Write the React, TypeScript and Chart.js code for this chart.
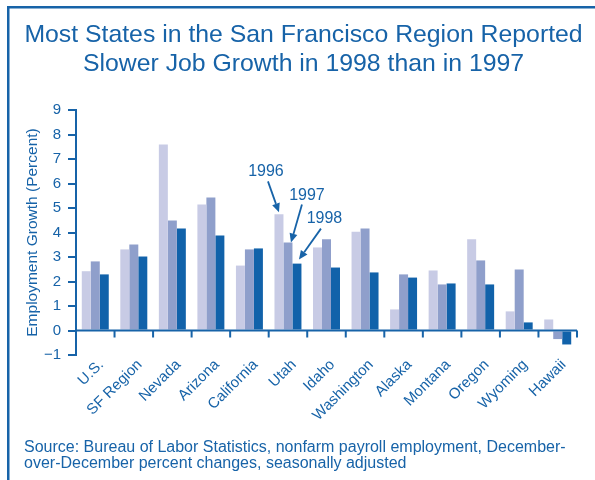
import { useEffect, useRef } from "react";
import { Chart, registerables } from "chart.js";

Chart.register(...registerables);

const categories = ["U.S.", "SF Region", "Nevada", "Arizona", "California", "Utah", "Idaho", "Washington", "Alaska", "Montana", "Oregon", "Wyoming", "Hawaii"];
const seriesLabels = ["1996", "1997", "1998"];
const growth1996 = [2.42, 3.31, 7.59, 5.14, 2.65, 4.74, 3.39, 4.03, 0.86, 2.45, 3.72, 0.78, 0.45];
const growth1997 = [2.82, 3.51, 4.49, 5.43, 3.31, 3.59, 3.72, 4.16, 2.29, 1.88, 2.86, 2.49, -0.35];
const growth1998 = [2.29, 3.02, 4.16, 3.88, 3.35, 2.73, 2.57, 2.37, 2.16, 1.92, 1.88, 0.33, -0.57];
const yMin = -1;
const yMax = 9;
const titleLines = ["Most States in the San Francisco Region Reported", "Slower Job Growth in 1998 than in 1997"];
const sourceLines = [
  "Source: Bureau of Labor Statistics, nonfarm payroll employment, December-",
  "over-December percent changes, seasonally adjusted",
];
const yAxisTitle = "Employment Growth (Percent)";
const annotatedCategory = "Utah";

const BLUE = "#1763a8";
const COLORS = ["#c8cbe5", "#8f9fcb", "#1162aa"];
const FONT = "'Liberation Sans', Arial, Helvetica, sans-serif";

const decorPlugin = {
  id: "decor",
  beforeDraw(chart: any) {
    const ctx = chart.ctx;
    ctx.save();
    ctx.fillStyle = "#ffffff";
    ctx.fillRect(0, 0, chart.width, chart.height);
    ctx.fillStyle = BLUE;
    ctx.fillRect(7, 6, chart.width - 7, 2.5);
    ctx.fillRect(7, 6, 2.5, chart.height - 6);
    ctx.font = `24.8px ${FONT}`;
    ctx.textAlign = "center";
    ctx.textBaseline = "alphabetic";
    ctx.fillText(titleLines[0], 303.5, 41.5);
    ctx.fillText(titleLines[1], 303.5, 71);
    ctx.font = `16px ${FONT}`;
    ctx.textAlign = "left";
    ctx.fillText(sourceLines[0], 24, 452);
    ctx.fillText(sourceLines[1], 24, 468);
    ctx.restore();
  },
  afterDatasetsDraw(chart: any) {
    const ctx = chart.ctx;
    const area = chart.chartArea;
    const y0 = chart.scales.y.getPixelForValue(0);
    const n = categories.length;
    const step = (area.right - area.left) / n;
    ctx.save();
    ctx.strokeStyle = BLUE;
    ctx.lineWidth = 2;
    ctx.beginPath();
    ctx.moveTo(area.left, y0);
    ctx.lineTo(area.right, y0);
    for (let i = 1; i <= n; i++) {
      const x = area.left + i * step;
      ctx.moveTo(x, y0);
      ctx.lineTo(x, y0 + 7);
    }
    ctx.stroke();

    // annotations
    const idx = categories.indexOf(annotatedCategory);
    const specs = [
      { tip: [0, -2], tail: [-11, -33], text: [-13, -38] },
      { tip: [3, 0], tail: [14, -38], text: [19, -43] },
      { tip: [2, -4], tail: [24, -35], text: [27.5, -41] },
    ];
    ctx.fillStyle = BLUE;
    ctx.font = `16px ${FONT}`;
    ctx.textAlign = "center";
    ctx.textBaseline = "alphabetic";
    specs.forEach((s, i) => {
      const bar = chart.getDatasetMeta(i).data[idx];
      const bx = bar.x;
      const by = bar.y;
      const tx = bx + s.tip[0];
      const ty = by + s.tip[1];
      const sx = bx + s.tail[0];
      const sy = by + s.tail[1];
      const ang = Math.atan2(ty - sy, tx - sx);
      const headLen = 9;
      const headW = 4;
      const hx = tx - headLen * Math.cos(ang);
      const hy = ty - headLen * Math.sin(ang);
      ctx.lineWidth = 1.8;
      ctx.beginPath();
      ctx.moveTo(sx, sy);
      ctx.lineTo(hx, hy);
      ctx.stroke();
      ctx.beginPath();
      ctx.moveTo(tx, ty);
      ctx.lineTo(hx + headW * Math.sin(ang), hy - headW * Math.cos(ang));
      ctx.lineTo(hx - headW * Math.sin(ang), hy + headW * Math.cos(ang));
      ctx.closePath();
      ctx.fill();
      ctx.fillText(seriesLabels[i], bx + s.text[0], by + s.text[1]);
    });
    ctx.restore();
  },
};

export default function App() {
  const canvasRef = useRef<HTMLCanvasElement | null>(null);

  useEffect(() => {
    if (!canvasRef.current) return;
    const chart = new Chart(canvasRef.current, {
      type: "bar",
      data: {
        labels: categories,
        datasets: [growth1996, growth1997, growth1998].map((d, i) => ({
          label: seriesLabels[i],
          data: d,
          backgroundColor: COLORS[i],
          borderWidth: 0,
          categoryPercentage: 0.7,
          barPercentage: 1,
        })),
      },
      options: {
        animation: false,
        responsive: false,
        devicePixelRatio: 1,
        layout: { padding: { top: 110, left: 20, right: 18, bottom: 30 } },
        plugins: {
          legend: { display: false },
          tooltip: { enabled: false },
          title: { display: false },
        },
        scales: {
          x: {
            grid: { display: false },
            border: { display: false },
            ticks: {
              color: BLUE,
              font: { family: FONT, size: 15 },
              minRotation: 45,
              maxRotation: 45,
              autoSkip: false,
              padding: -7,
              labelOffset: 6,
            },
            afterFit: (scale: any) => {
              scale.height = 95;
            },
          },
          y: {
            min: yMin,
            max: yMax,
            border: { display: true, color: BLUE, width: 2 },
            grid: { drawOnChartArea: false, drawTicks: true, tickLength: 8, color: BLUE, lineWidth: 2 },
            ticks: {
              stepSize: 1,
              color: BLUE,
              font: { family: FONT, size: 15 },
              padding: 7,
              callback: (v: any) => (Number(v) < 0 ? "\u2212" + Math.abs(Number(v)) : String(v)),
            },
            title: {
              display: true,
              text: yAxisTitle,
              color: BLUE,
              font: { family: FONT, size: 15.5 },
              padding: { top: 3, bottom: 0 },
            },
            afterFit: (scale: any) => {
              scale.width = 56;
            },
          },
        },
      },
      plugins: [decorPlugin],
    });
    return () => chart.destroy();
  }, []);

  return (
    <div style={{ position: "fixed", left: 0, top: 0, width: 595, height: 480, background: "#fff" }}>
      <canvas ref={canvasRef} width={595} height={480} style={{ display: "block", width: 595, height: 480 }} />
    </div>
  );
}
